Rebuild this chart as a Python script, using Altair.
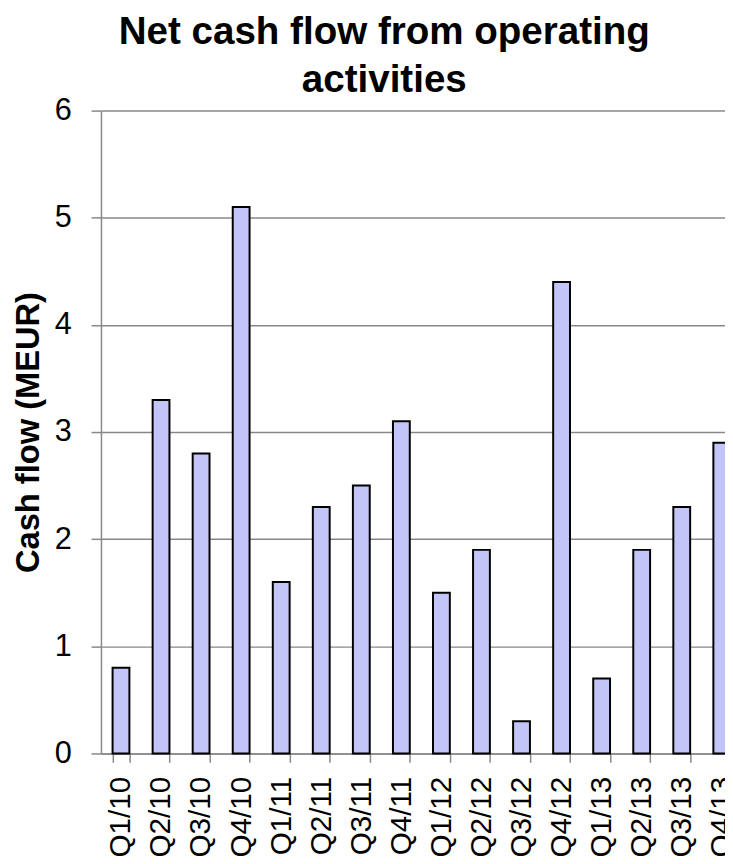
import altair as alt
import pandas as pd

quarters = ["Q1/10", "Q2/10", "Q3/10", "Q4/10", "Q1/11", "Q2/11", "Q3/11", "Q4/11",
            "Q1/12", "Q2/12", "Q3/12", "Q4/12", "Q1/13", "Q2/13", "Q3/13", "Q4/13"]
cash_flow = [0.8, 3.3, 2.8, 5.1, 1.6, 2.3, 2.5, 3.1,
             1.5, 1.9, 0.3, 4.4, 0.7, 1.9, 2.3, 2.9]

df = pd.DataFrame({"quarter": quarters, "value": cash_flow})

FONT = "Liberation Sans"

chart = alt.Chart(df).mark_bar(
    color="#c3c5f8", stroke="black", strokeWidth=2
).encode(
    x=alt.X("quarter:N", sort=quarters,
            scale=alt.Scale(range=[0, 648], paddingInner=0.58, paddingOuter=0.29),
            axis=alt.Axis(title=None, labelAngle=-90, labelAlign="right", labelBaseline="middle",
                          labelFontSize=30, labelPadding=14, tickSize=9, tickBand="extent",
                          tickColor="#888888", tickWidth=1.5, domainColor="#888888",
                          domainWidth=1.5, labelColor="black", labelFont=FONT, grid=False)),
    y=alt.Y("value:Q", scale=alt.Scale(domain=[0, 6], nice=False),
            axis=alt.Axis(title="Cash flow (MEUR)", values=[0, 1, 2, 3, 4, 5, 6], format="d",
                          labelFontSize=31, labelPadding=20, tickSize=10, tickColor="#888888",
                          tickWidth=1.5, domainColor="#888888", domainWidth=1.5,
                          gridColor="#888888", gridWidth=1.5, labelColor="black",
                          labelFont=FONT, titleFont=FONT, titleFontSize=33, titleFontWeight="bold",
                          titleColor="black", titlePadding=9)),
).properties(
    width=631, height=650,
    title=alt.TitleParams(text=["Net cash flow from operating", "activities"], font=FONT,
                          fontSize=39, fontWeight="bold", color="black", anchor="middle",
                          dx=-29, dy=13, offset=8, lineHeight=48),
    autosize=alt.AutoSizeParams(type="none"),
    padding={"left": 94, "top": 99, "right": 0, "bottom": 105},
).configure_view(stroke=None)

chart.save("out.html", embed_options={"renderer": "svg", "actions": False})
